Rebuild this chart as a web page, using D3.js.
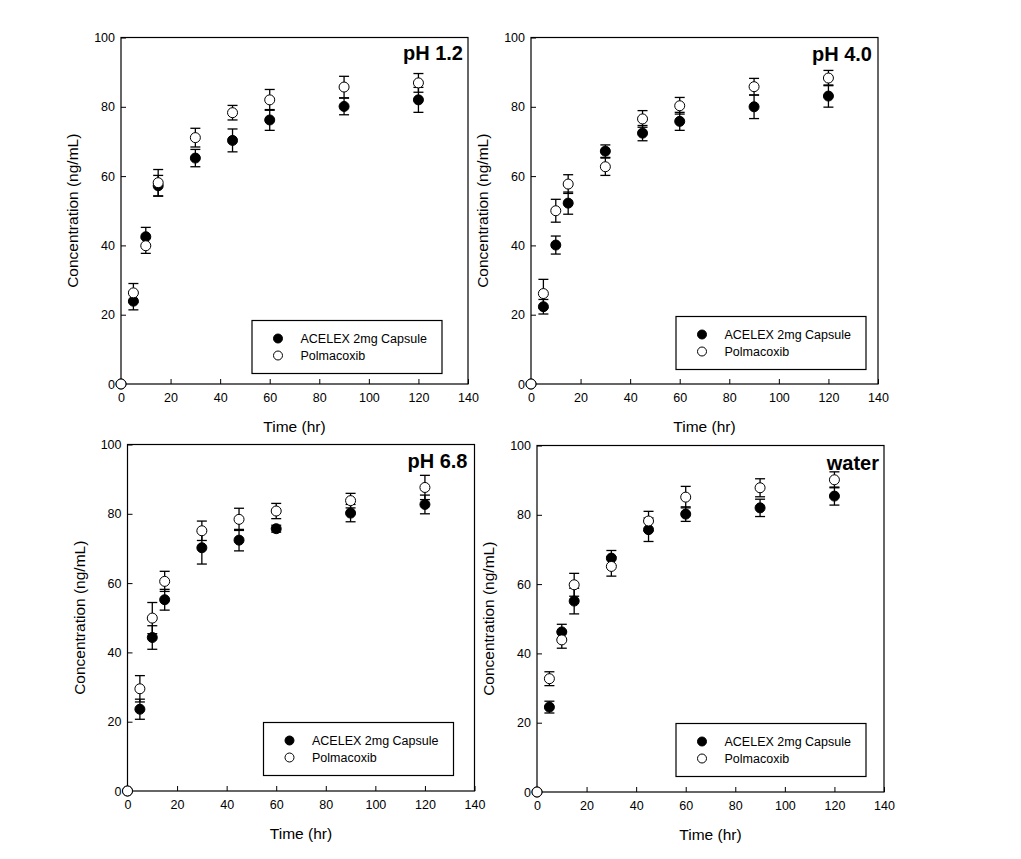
<!DOCTYPE html>
<html>
<head>
<meta charset="utf-8">
<script src="https://cdn.jsdelivr.net/npm/d3@7"></script>
<style>
  html, body { margin: 0; padding: 0; background: #fff; }
  svg { display: block; }
  text { font-family: "Liberation Sans", Arial, sans-serif; fill: #000; }
</style>
</head>
<body>
<svg id="chart" width="1021" height="859"></svg>
<script>
// ---- data ----
const times = [0, 5, 10, 15, 30, 45, 60, 90, 120];
const seriesNames = ["ACELEX 2mg Capsule", "Polmacoxib"];
const panelTitles = ["pH 1.2", "pH 4.0", "pH 6.8", "water"];

const acelexPH12 = [0, 23.9, 42.5, 57.2, 65.2, 70.3, 76.2, 80.1, 82.0];
const acelexPH12Err = [0, 2.5, 2.7, 3.0, 2.5, 3.3, 3.0, 2.4, 3.6];
const polmaPH12 = [0, 26.3, 39.9, 58.1, 71.1, 78.3, 82.0, 85.7, 86.9];
const polmaPH12Err = [0, 2.7, 2.2, 3.8, 2.7, 2.1, 3.0, 3.1, 2.7];

const acelexPH40 = [0, 22.3, 40.1, 52.2, 67.2, 72.4, 75.8, 80.0, 83.1];
const acelexPH40Err = [0, 2.1, 2.6, 3.2, 1.8, 2.2, 2.6, 3.4, 3.2];
const polmaPH40 = [0, 26.1, 50.0, 57.7, 62.7, 76.5, 80.3, 85.8, 88.3];
const polmaPH40Err = [0, 4.1, 3.3, 2.7, 2.5, 2.4, 2.4, 2.4, 2.2];

const acelexPH68 = [0, 23.6, 44.3, 55.2, 70.2, 72.4, 75.7, 80.2, 82.7];
const acelexPH68Err = [0, 2.9, 3.4, 3.0, 4.7, 3.1, 1.0, 2.5, 2.7];
const polmaPH68 = [0, 29.5, 49.9, 60.5, 75.1, 78.4, 80.8, 83.8, 87.6];
const polmaPH68Err = [0, 3.8, 4.5, 2.9, 2.8, 3.2, 2.2, 2.1, 3.5];

const acelexWater = [0, 24.5, 46.2, 55.1, 67.5, 75.7, 80.2, 82.0, 85.4];
const acelexWaterErr = [0, 1.7, 2.2, 3.7, 2.2, 3.4, 2.1, 2.5, 2.6];
const polmaWater = [0, 32.7, 43.9, 59.8, 65.1, 78.2, 85.1, 87.8, 90.1];
const polmaWaterErr = [0, 2.0, 2.4, 3.3, 2.8, 2.8, 3.1, 2.6, 2.3];

const xTicks = [0, 20, 40, 60, 80, 100, 120, 140];
const yTicks = [0, 20, 40, 60, 80, 100];
const xLabel = "Time (hr)";
const yLabel = "Concentration (ng/mL)";

// ---- layout ----
const panels = [
  { left: 121, top: 37.5, w: 347, h: 346.5, title: panelTitles[0], a: acelexPH12, ae: acelexPH12Err, p: polmaPH12, pe: polmaPH12Err, lg: [131, 283], tt: [5, 22] },
  { left: 531, top: 37.5, w: 347, h: 346.5, title: panelTitles[1], a: acelexPH40, ae: acelexPH40Err, p: polmaPH40, pe: polmaPH40Err, lg: [145, 279], tt: [6, 23] },
  { left: 127.5, top: 444.5, w: 347, h: 346.5, title: panelTitles[2], a: acelexPH68, ae: acelexPH68Err, p: polmaPH68, pe: polmaPH68Err, lg: [136, 278], tt: [7, 23] },
  { left: 537, top: 445.5, w: 347, h: 346.5, title: panelTitles[3], a: acelexWater, ae: acelexWaterErr, p: polmaWater, pe: polmaWaterErr, lg: [139, 278], tt: [5, 24] }
];

const svg = d3.select("#chart");

panels.forEach(P => {
  const g = svg.append("g").attr("transform", `translate(${P.left},${P.top})`);
  const x = d3.scaleLinear().domain([0, 140]).range([0, P.w]);
  const y = d3.scaleLinear().domain([0, 100]).range([P.h, 0]);

  // axes (ticks inward)
  const xAxis = d3.axisBottom(x).tickValues(xTicks).tickSizeInner(-5).tickSizeOuter(0).tickPadding(12);
  const yAxis = d3.axisLeft(y).tickValues(yTicks).tickSizeInner(-5).tickSizeOuter(0).tickPadding(12);
  const gx = g.append("g").attr("transform", `translate(0,${P.h})`).call(xAxis);
  const gy = g.append("g").call(yAxis);
  [gx, gy].forEach(a => {
    a.select(".domain").remove();
    a.selectAll("line").attr("stroke", "#000").attr("stroke-width", 1);
    a.selectAll("text").style("font-size", "12.5px").style("font-family", "'Liberation Sans', Arial, sans-serif").attr("fill", "#000");
  });
  gx.selectAll("text").attr("dy", "0.71em").attr("y", 9);
  gy.selectAll("text").attr("x", -6);

  // frame
  g.append("rect").attr("x", 0).attr("y", 0).attr("width", P.w).attr("height", P.h)
    .attr("fill", "none").attr("stroke", "#000").attr("stroke-width", 1.2);

  // axis titles
  g.append("text").attr("x", P.w / 2).attr("y", P.h + 48).attr("text-anchor", "middle")
    .style("font-size", "15.5px").text(xLabel);
  g.append("text").attr("transform", `translate(-43,${P.h / 2}) rotate(-90)`).attr("text-anchor", "middle")
    .style("font-size", "15.5px").text(yLabel);

  // panel title
  g.append("text").attr("x", P.w - P.tt[0]).attr("y", P.tt[1]).attr("text-anchor", "end")
    .style("font-size", "20px").style("font-weight", "bold").text(P.title);

  // series
  const series = [
    { vals: P.a, errs: P.ae, fill: "#000" },
    { vals: P.p, errs: P.pe, fill: "#fff" }
  ];
  series.forEach(s => {
    const data = times.map((t, i) => ({ t, v: s.vals[i], e: s.errs[i] }));
    const eb = g.append("g").selectAll("g").data(data.filter(d => d.e > 0)).join("g")
      .attr("stroke", "#000").attr("stroke-width", 1.3);
    eb.append("line").attr("x1", d => x(d.t)).attr("x2", d => x(d.t))
      .attr("y1", d => y(d.v - d.e)).attr("y2", d => y(d.v + d.e));
    eb.append("line").attr("x1", d => x(d.t) - 5).attr("x2", d => x(d.t) + 5)
      .attr("y1", d => y(d.v + d.e)).attr("y2", d => y(d.v + d.e));
    eb.append("line").attr("x1", d => x(d.t) - 5).attr("x2", d => x(d.t) + 5)
      .attr("y1", d => y(d.v - d.e)).attr("y2", d => y(d.v - d.e));
    g.append("g").selectAll("circle").data(data).join("circle")
      .attr("cx", d => x(d.t)).attr("cy", d => y(d.v)).attr("r", 5)
      .attr("fill", s.fill).attr("stroke", "#000").attr("stroke-width", 1);
  });

  // legend
  const lg = g.append("g").attr("transform", `translate(${P.lg[0]},${P.lg[1]})`);
  lg.append("rect").attr("width", 190).attr("height", 53).attr("fill", "#fff")
    .attr("stroke", "#000").attr("stroke-width", 1.2);
  seriesNames.forEach((name, i) => {
    const yy = 18 + i * 17;
    lg.append("circle").attr("cx", 26).attr("cy", yy).attr("r", 4.5)
      .attr("fill", i === 0 ? "#000" : "#fff").attr("stroke", "#000").attr("stroke-width", 1);
    lg.append("text").attr("x", 48.5).attr("y", yy).attr("dy", "0.35em")
      .style("font-size", "12.5px").text(name);
  });
});
</script>
</body>
</html>
